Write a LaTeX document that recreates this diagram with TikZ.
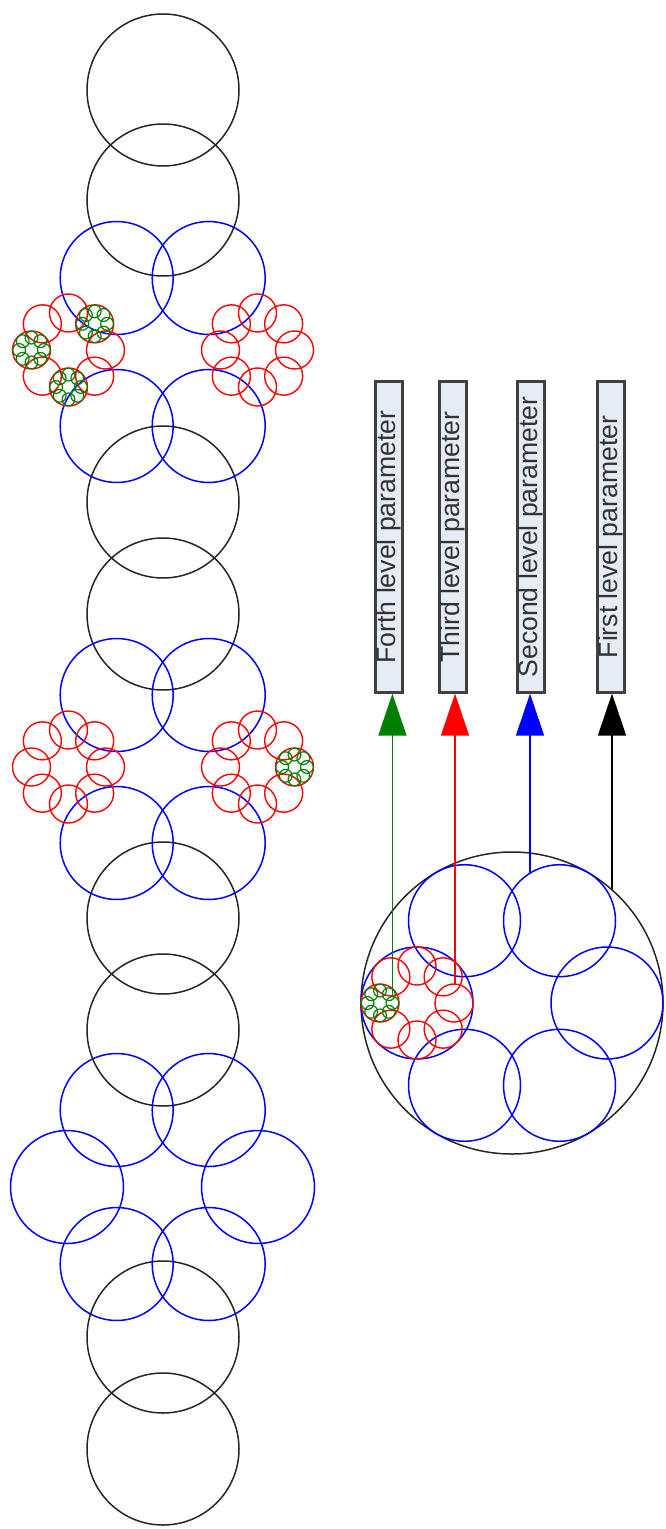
\documentclass[tikz,border=0pt]{standalone}
\usepackage{fontspec}
\setmainfont{Liberation Sans}
\usetikzlibrary{arrows.meta}
\definecolor{gr}{RGB}{0,128,0}
\definecolor{boxfill}{RGB}{230,236,246}
\tikzset{
  blk/.style={draw=black!85, line width=0.75pt},
  blu/.style={draw=blue, line width=0.75pt},
  rd/.style={draw=red, line width=0.7pt},
  grn/.style={draw=gr, line width=0.6pt},
  parambox/.style={draw=black!75, line width=1.1pt, fill=boxfill, rotate=90,
    minimum width=155.5pt, minimum height=13.5pt, inner sep=0pt,
    font=\fontsize{13.3}{14}\selectfont, text=black!80},
  conn/.style={line width=0.7pt, -{Triangle[length=21pt,width=14pt]}}
}
% n children on a ring around (cx,cy): #1 n, #2 cx, #3 cy, #4 ring radius, #5 child radius, #6 style
\newcommand\ringof[6]{%
  \foreach \a in {1,...,#1}{%
    \draw[#6] ({#2+#4*cos(360*\a/#1)},{#3-#4*sin(360*\a/#1)}) circle[radius=#5];
  }}
\newcommand\redflower[2]{\ringof{8}{#1}{#2}{37}{19}{rd}}
\newcommand\greenflower[2]{\ringof{8}{#1}{#2}{12.4}{6.4}{grn}}
\begin{document}
\begin{tikzpicture}[x=0.5pt,y=-0.5pt]
\useasboundingbox (0,0) rectangle (665,1529);

% ---------- left column: black circles ----------
\foreach \y in {90,200,502,614,918,1030,1337,1449}{
  \draw[blk] (163,\y) circle[radius=76];
}
% top group
\foreach \x in {116.7,208.7}{
  \draw[blu] (\x,278) circle[radius=56.5];
  \draw[blu] (\x,426) circle[radius=56.5];
}
\redflower{68.5}{350}
\redflower{257.5}{350}
\greenflower{94.7}{323.8}
\greenflower{31.5}{350}
\greenflower{68.5}{387}
% middle group
\foreach \x in {116.7,208.7}{
  \draw[blu] (\x,695) circle[radius=56.5];
  \draw[blu] (\x,843) circle[radius=56.5];
}
\redflower{68.5}{767}
\redflower{257.5}{767}
\greenflower{294.5}{767}
% bottom group
\foreach \x in {116.7,208.7}{
  \draw[blu] (\x,1110) circle[radius=56.5];
  \draw[blu] (\x,1264) circle[radius=56.5];
}
\draw[blu] (67,1187) circle[radius=56.5];
\draw[blu] (258,1187) circle[radius=56.5];

% ---------- right assembly ----------
\draw[blk] (512,1003) circle[radius=151];
\ringof{6}{512}{1003}{95}{56}{blu}
\redflower{417}{1003}
\greenflower{380}{1003}

% connector start points
\coordinate (s1) at (612,890);
\coordinate (s2) at (530,873);
\coordinate (s3) at (455,985);
\coordinate (s4) at (392.4,996.6);

% ---------- parameter boxes ----------
\node[parambox] (b4) at (389,537) {Forth level parameter};
\node[parambox] (b3) at (453,537) {Third level parameter};
\node[parambox] (b2) at (531,537) {Second level parameter};
\node[parambox] (b1) at (611,537) {First level parameter};

\draw[conn, draw=black, fill=black] (s1) -- (s1 |- b1.west);
\draw[conn, draw=blue, fill=blue] (s2) -- (s2 |- b2.west);
\draw[conn, draw=red, fill=red] (s3) -- (s3 |- b3.west);
\draw[conn, draw=gr, fill=gr] (s4) -- (s4 |- b4.west);
\end{tikzpicture}
\end{document}
